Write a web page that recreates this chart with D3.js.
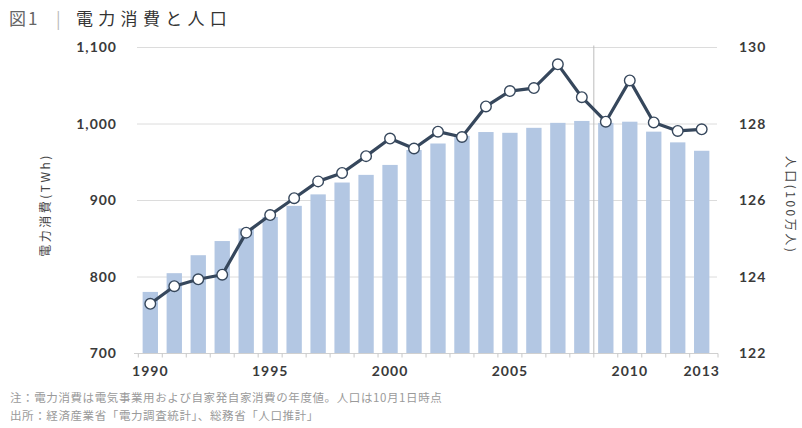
<!DOCTYPE html>
<html lang="ja">
<head>
<meta charset="utf-8">
<script src="https://cdn.jsdelivr.net/npm/d3@7/dist/d3.min.js"></script>
<style>
  html, body { margin: 0; padding: 0; background: #fff; }
  svg { display: block; }
  .tick-lab { font-family: Lato, "Noto Sans", sans-serif; font-weight: 700; font-size: 14px; letter-spacing: 1px; fill: #3a3a3a; }
  .jp { font-family: "Noto Sans CJK JP", "Noto Sans", sans-serif; }
</style>
</head>
<body>
<svg id="chart" width="802" height="428"></svg>
<script>
// Fiscal-year electricity consumption (TWh) and population (millions, Oct 1)
const years = [1990, 1991, 1992, 1993, 1994, 1995, 1996, 1997, 1998, 1999,
               2000, 2001, 2002, 2003, 2004, 2005, 2006, 2007, 2008, 2009,
               2010, 2011, 2012, 2013];
const electricity = [765, 788, 797, 803, 858, 881, 903, 925, 936, 958,
                     981, 968, 990, 983, 1023, 1043, 1047, 1078, 1035, 1003,
                     1057, 1002, 991, 993];
const population = [123.61, 124.10, 124.57, 124.94, 125.27, 125.57, 125.86, 126.16, 126.47, 126.67,
                    126.93, 127.32, 127.49, 127.69, 127.79, 127.77, 127.90, 128.03, 128.08, 128.03,
                    128.06, 127.80, 127.52, 127.30];
const leftTicks = [700, 800, 900, 1000, 1100];
const rightTicks = [122, 124, 126, 128, 130];
const yearLabels = [1990, 1995, 2000, 2005, 2010, 2013];

const svg = d3.select("#chart");
const plot = { left: 134, right: 718, top: 47.5, bottom: 353.5 };

const x = d3.scaleBand().domain(years).range([plot.left, plot.right]).padding(0.36);
const yL = d3.scaleLinear().domain([700, 1100]).range([plot.bottom, plot.top]);
const yR = d3.scaleLinear().domain([122, 130]).range([plot.bottom, plot.top]);
const cx = yr => x(yr) + x.bandwidth() / 2;

// Title
const title = svg.append("g").attr("class", "jp").style("font-size", "17px");
title.append("text").attr("x", 9).attr("y", 25).attr("fill", "#666")
  .style("letter-spacing", "2px").text("図1");
title.append("text").attr("x", 56).attr("y", 25).attr("fill", "#bbb").text("|");
title.append("text").attr("x", 76).attr("y", 25).attr("fill", "#333")
  .style("letter-spacing", "5.3px").text("電力消費と人口");

// Horizontal gridlines
svg.append("g").selectAll("line").data(leftTicks.slice(1)).join("line")
  .attr("x1", plot.left + 3).attr("x2", plot.right - 1)
  .attr("y1", d => yL(d)).attr("y2", d => yL(d))
  .attr("stroke", "#dcdcdc").attr("stroke-width", 1);

// Population bars (right axis)
svg.append("g").selectAll("rect").data(years).join("rect")
  .attr("x", d => x(d))
  .attr("width", x.bandwidth())
  .attr("y", (d, i) => yR(population[i]))
  .attr("height", (d, i) => yR(122) - yR(population[i]))
  .attr("fill", "#b3c7e3");

// Baseline and category ticks
svg.append("line").attr("x1", plot.left).attr("x2", plot.right)
  .attr("y1", plot.bottom).attr("y2", plot.bottom)
  .attr("stroke", "#d0d0d0");
const bounds = years.map(d => x(d) - x.step() * x.paddingInner() / 2).concat([plot.right]);
svg.append("g").selectAll("line").data(bounds).join("line")
  .attr("x1", d => d).attr("x2", d => d)
  .attr("y1", plot.bottom).attr("y2", plot.bottom + 4)
  .attr("stroke", "#c8c8c8");

// Vertical reference line between FY2008 and FY2009
const vx = (cx(2008) + cx(2009)) / 2;
svg.append("line").attr("x1", vx).attr("x2", vx)
  .attr("y1", plot.top - 2).attr("y2", plot.bottom)
  .attr("stroke", "#bdbdbd").attr("stroke-width", 1);

// Electricity line (left axis)
const line = d3.line().x((d, i) => cx(years[i])).y(d => yL(d));
svg.append("path").datum(electricity)
  .attr("d", line).attr("fill", "none")
  .attr("stroke", "#36475c").attr("stroke-width", 3.2).attr("stroke-linejoin", "round");
svg.append("g").selectAll("circle").data(electricity).join("circle")
  .attr("cx", (d, i) => cx(years[i])).attr("cy", d => yL(d)).attr("r", 5.3)
  .attr("fill", "#fff").attr("stroke", "#36475c").attr("stroke-width", 1.4);

// Left axis labels
svg.append("g").selectAll("text").data(leftTicks).join("text")
  .attr("class", "tick-lab").attr("x", 117).attr("y", d => yL(d))
  .attr("dy", "0.35em").attr("text-anchor", "end")
  .text(d => d3.format(",")(d));
svg.append("text").attr("class", "jp")
  .attr("transform", "translate(50,205) rotate(-90)")
  .attr("text-anchor", "middle").style("font-size", "12px").style("letter-spacing", "2.5px")
  .attr("fill", "#444")
  .text("電力消費(TWh)");

// Right axis labels
svg.append("g").selectAll("text").data(rightTicks).join("text")
  .attr("class", "tick-lab").attr("x", 739).attr("y", d => yR(d))
  .attr("dy", "0.35em").attr("text-anchor", "start")
  .text(d => d);
svg.append("text").attr("class", "jp")
  .attr("transform", "translate(786,205) rotate(90)")
  .attr("text-anchor", "middle").style("font-size", "12px").style("letter-spacing", "2.5px")
  .attr("fill", "#444")
  .text("人口(100万人)");

// Year labels
svg.append("g").selectAll("text").data(yearLabels).join("text")
  .attr("class", "tick-lab").attr("x", d => cx(d)).attr("y", 376)
  .attr("text-anchor", "middle").text(d => d);

// Notes
const notes = [
  "注：電力消費は電気事業用および自家発自家消費の年度値。人口は10月1日時点",
  "出所：経済産業省「電力調査統計」、総務省「人口推計」"
];
svg.append("g").selectAll("text").data(notes).join("text")
  .attr("class", "jp").attr("x", 10).attr("y", (d, i) => 402 + i * 18)
  .style("font-size", "11.5px").style("letter-spacing", "0.6px")
  .attr("fill", "#9a9a9a").text(d => d);
</script>
</body>
</html>
